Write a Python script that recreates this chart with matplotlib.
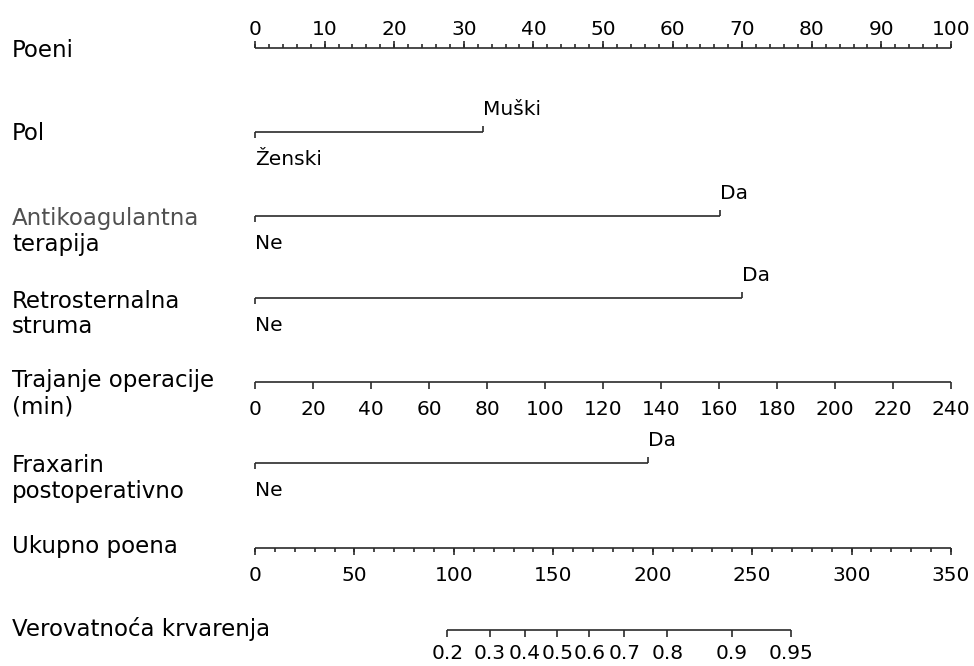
import numpy as np
import matplotlib
matplotlib.use('Agg')
import matplotlib.pyplot as plt

plt.rcParams['font.family'] = ['DejaVu Sans']

# ---- podaci nomograma ----
# skala poena
poeni_ticks = np.arange(0, 101, 10)
poeni_minor = np.arange(0, 101, 2)

# kategorijske varijable: nivoi i poeni
pol_levels = ['Ženski', 'Muški']
pol_points = [0, 32.7]
antikoag_levels = ['Ne', 'Da']
antikoag_points = [0, 66.8]
retro_levels = ['Ne', 'Da']
retro_points = [0, 69.9]
fraxarin_levels = ['Ne', 'Da']
fraxarin_points = [0, 56.4]

# trajanje operacije (min), 240 min = 100 poena
trajanje_ticks = np.arange(0, 241, 20)
trajanje_max = 240

# ukupno poena
ukupno_ticks = np.arange(0, 351, 50)
ukupno_minor = np.arange(0, 351, 10)
ukupno_max = 350

# verovatnoca krvarenja (logit skala)
prob_ticks = [0.2, 0.3, 0.4, 0.5, 0.6, 0.7, 0.8, 0.9, 0.95]
prob_labels = ['0.2', '0.3', '0.4', '0.5', '0.6', '0.7', '0.8', '0.9', '0.95']
lp_center = 152.0   # ukupno poena za p = 0.5
lp_slope = 39.9     # ukupno poena po jedinici logita

# ---- crtanje ----
LC = '#2b2b2b'
LW = 1.2
FS_ROW = 16.5
FS_TICK = 14.5

fig = plt.figure(figsize=(9.74, 6.66), dpi=100)
ax = fig.add_axes([0, 0, 1, 1])
# x u poenima (0-100), y u pikselima
ax.set_xlim(-255 / 6.96, (974 - 255) / 6.96)
ax.set_ylim(666, 0)
ax.axis('off')

X_LABEL = -243 / 6.96


def row_label(lines, baselines, color='black'):
    for txt, yb in zip(lines, baselines):
        ax.text(X_LABEL, yb, txt, fontsize=FS_ROW, color=color, va='baseline', ha='left')


def axis_line(y, x0, x1):
    ax.plot([x0, x1], [y, y], color=LC, lw=LW, solid_capstyle='butt')


def numeric_axis(y, pos, labels, minor_pos=None, up=False, major_len=7, minor_len=4, gap=33):
    axis_line(y, pos[0], pos[-1])
    s = -1 if up else 1
    if minor_pos is not None:
        ax.vlines(minor_pos, y, y + s * minor_len, color=LC, lw=LW)
    ax.vlines(pos, y, y + s * major_len, color=LC, lw=LW)
    yb = y - 13 if up else y + gap
    for p, lab in zip(pos, labels):
        ax.text(p, yb, lab, fontsize=FS_TICK, ha='center', va='baseline')


def categorical_axis(y, points, levels):
    axis_line(y, points[0], points[-1])
    for i, (p, lab) in enumerate(zip(points, levels)):
        if i % 2 == 0:
            ax.vlines(p, y, y + 6, color=LC, lw=LW)
            ax.text(p, y + 33, lab, fontsize=FS_TICK, ha='left', va='baseline')
        else:
            ax.vlines(p, y, y - 6, color=LC, lw=LW)
            ax.text(p, y - 17, lab, fontsize=FS_TICK, ha='left', va='baseline')


# Poeni
row_label(['Poeni'], [57])
numeric_axis(48, poeni_ticks, [str(v) for v in poeni_ticks], minor_pos=poeni_minor, up=True)

# Pol
row_label(['Pol'], [140])
categorical_axis(132, pol_points, pol_levels)

# Antikoagulantna terapija
row_label(['Antikoagulantna'], [225], color='#505050')
row_label(['terapija'], [251])
categorical_axis(216, antikoag_points, antikoag_levels)

# Retrosternalna struma
row_label(['Retrosternalna', 'struma'], [308, 333])
categorical_axis(298, retro_points, retro_levels)

# Trajanje operacije
row_label(['Trajanje operacije', '(min)'], [387, 414])
numeric_axis(382, trajanje_ticks * 100 / trajanje_max, [str(v) for v in trajanje_ticks])

# Fraxarin postoperativno
row_label(['Fraxarin', 'postoperativno'], [472, 498])
categorical_axis(463, fraxarin_points, fraxarin_levels)

# Ukupno poena
row_label(['Ukupno poena'], [553])
numeric_axis(548, ukupno_ticks * 100 / ukupno_max, [str(v) for v in ukupno_ticks],
             minor_pos=ukupno_minor * 100 / ukupno_max)

# Verovatnoca krvarenja
row_label(['Verovatnoća krvarenja'], [636])
p = np.array(prob_ticks)
prob_total = lp_center + lp_slope * np.log(p / (1 - p))
numeric_axis(630, prob_total * 100 / ukupno_max, prob_labels, gap=29)

fig.savefig('out.png', dpi=100, facecolor='white')
